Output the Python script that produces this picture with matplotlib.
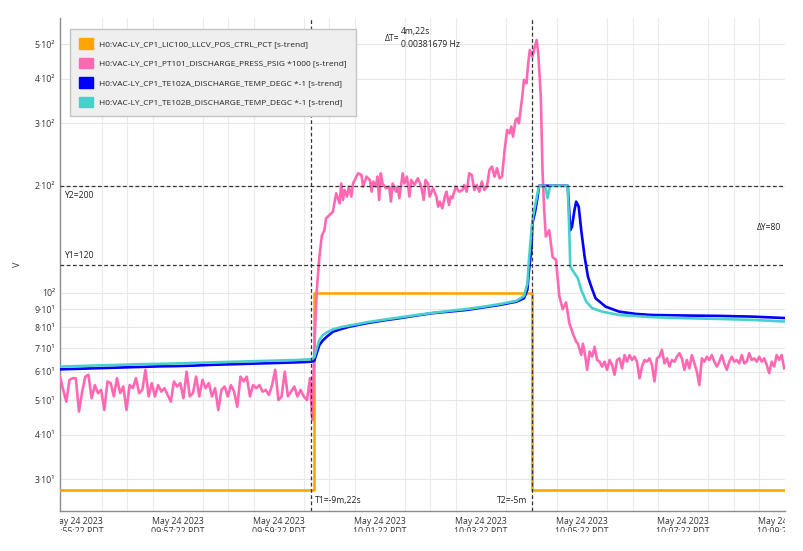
import matplotlib
matplotlib.use('Agg')
import matplotlib.pyplot as plt
import matplotlib.dates as mdates
import matplotlib.transforms as mtransforms
from matplotlib.patches import Patch, Rectangle
from matplotlib.ticker import FixedLocator, FixedFormatter, NullLocator, FuncFormatter
import numpy as np
import pandas as pd

plt.rcParams['font.family'] = ['Open Sans', 'DejaVu Sans']

# tempos de referencia
T0 = pd.Timestamp('2023-05-24 09:55:02')
T_END = pd.Timestamp('2023-05-24 10:09:23')
T1 = pd.Timestamp('2023-05-24 10:00:00')
T2 = pd.Timestamp('2023-05-24 10:04:22')
Y1, Y2 = 120, 200

names = ['H0:VAC-LY_CP1_LIC100_LLCV_POS_CTRL_PCT [s-trend]',
         'H0:VAC-LY_CP1_PT101_DISCHARGE_PRESS_PSIG *1000 [s-trend]',
         'H0:VAC-LY_CP1_TE102A_DISCHARGE_TEMP_DEGC *-1 [s-trend]',
         'H0:VAC-LY_CP1_TE102B_DISCHARGE_TEMP_DEGC *-1 [s-trend]']
colors = ['#FFA500', '#FF69B4', '#0000FF', '#48D1CC']

# LIC100 (segundos desde T0)
orange_s = [0, 302, 302, 560, 560, 861]
orange_v = [28, 28, 100, 100, 28, 28]

# PT101 antes de T1 (amostras igualmente espacadas 0..297 s)
pink_pre_v = [58.2, 53.4, 49.5, 57.0, 57.6, 57.6, 46.4, 52.8, 58.2, 58.9,
              50.6, 55.1, 52.3, 53.4, 46.9, 56.4, 55.8, 51.2, 57.6, 52.3,
              54.6, 46.9, 55.1, 54.0, 57.6, 52.3, 53.4, 60.8, 51.2, 55.8,
              51.2, 55.1, 52.8, 54.0, 51.7, 49.5, 56.4, 54.6, 55.8, 50.6,
              60.1, 51.2, 52.3, 58.2, 51.2, 57.0, 54.0, 55.8, 51.2, 54.0,
              46.9, 53.4, 54.6, 51.2, 55.1, 52.8, 47.9, 58.2, 56.4, 58.2,
              51.2, 55.1, 54.0, 55.1, 52.8, 53.4, 51.7, 55.1, 60.8, 50.0,
              51.2, 60.1, 51.2, 52.8, 54.6, 51.2, 53.4, 51.2, 50.0, 57.6]

# PT101 entre os cursores
pink_mid_s = [299, 300, 301, 303, 305, 308, 311, 314, 316, 324, 328, 332, 334,
              336, 338, 341, 343, 346, 348, 352, 354, 358, 360, 364, 368, 370,
              372, 375, 377, 379, 381, 383, 387, 391, 393, 395, 399, 401, 403,
              407, 409, 412, 415, 417, 421, 425, 429, 432, 434, 437, 439, 443,
              447, 449, 451, 454, 457, 459, 462, 464, 466, 470, 474, 478, 480,
              483, 486, 489, 492, 495, 498, 501, 504, 507, 510, 513, 516, 519,
              522, 525, 528, 531, 534, 536, 538, 541, 543, 545, 549, 551, 554,
              556, 558, 561, 564, 566, 568, 571, 573, 575, 577, 581, 585, 589,
              593, 597, 601, 605, 609, 613, 615, 619, 621, 624]
pink_mid_v = [46, 44, 58, 80, 102, 126, 145, 150, 162, 169, 190.5, 178.6, 203,
              182.4, 194.6, 186.5, 198.9, 186.5, 203, 212.2, 216.8, 214.5,
              198.9, 212.2, 207.7, 192.5, 205.5, 198.9, 212.2, 182.4, 216.8,
              203, 196.8, 198.9, 180.5, 203, 192.5, 198.9, 184.5, 216.8, 203,
              212.2, 186.5, 207.7, 201.1, 209.9, 198.9, 182.4, 207.7, 203,
              186.5, 196.8, 186.5, 174.8, 180.5, 172.9, 186.5, 192.5, 176.7,
              186.5, 184.5, 198.9, 192.5, 194.6, 201.1, 192.5, 216.8, 214.5,
              194.6, 201.1, 192.5, 205.5, 194.6, 198.9, 221.6, 226.4, 212.2,
              224, 209.9, 212.2, 252.2, 287, 280.8, 293.3, 274.8, 306, 309.5,
              299.6, 356, 396.7, 388, 441.8, 481.6, 461, 492, 513.6, 471.4,
              356, 221.6, 171, 144, 150, 126, 124, 98, 90, 94, 82, 77, 73, 72,
              67, 72, 66]

# PT101 depois (amostras igualmente espacadas 626..860 s)
pink_post_v = [60.8, 68.4, 66.2, 70.6, 64.8, 64.1, 62.1, 64.1, 60.8, 64.8,
               62.8, 58.9, 64.8, 65.5, 61.4, 66.9, 64.1, 66.9, 64.8, 66.2,
               64.1, 57.6, 62.1, 64.8, 64.1, 65.5, 62.8, 56.4, 65.5, 66.2,
               69.2, 63.4, 65.5, 62.1, 64.8, 64.1, 66.2, 67.7, 65.5, 60.8,
               64.8, 61.4, 66.9, 63.4, 60.1, 55.1, 65.5, 64.1, 66.2, 64.8,
               66.9, 64.1, 62.1, 64.1, 66.9, 63.4, 60.8, 64.1, 66.2, 64.1,
               64.8, 63.4, 66.9, 63.4, 64.1, 67.7, 64.8, 65.5, 64.1, 66.2,
               64.1, 65.5, 62.8, 59.5, 64.1, 62.1, 66.9, 64.8, 66.9, 61.4]

# TE102A
blue_s = [0, 20, 40, 60, 80, 100, 120, 140, 160, 180, 200, 220, 240, 260, 280,
          299, 302, 305, 308, 312, 317, 324, 334, 344, 354, 364, 383, 403, 422,
          442, 462, 483, 502, 522, 542, 551, 555, 557, 560, 561, 564, 567, 569,
          603, 606, 608, 611, 613, 616, 619, 623, 627, 631, 636, 648, 664, 684,
          703, 743, 783, 822, 861]
blue_v = [61.0, 61.2, 61.4, 61.6, 61.8, 62.0, 62.2, 62.3, 62.5, 62.8, 63.0,
          63.2, 63.4, 63.6, 63.8, 64.1, 64.5, 67.8, 71.4, 73.5, 75.4, 77.8,
          79.2, 80.4, 81.3, 82.2, 83.6, 84.9, 86.3, 87.7, 88.6, 89.6, 91.0,
          92.5, 94.5, 96.6, 102, 116, 135, 157, 168, 185, 200, 200, 150, 153.5,
          171, 180.5, 174.8, 150, 126.5, 111, 104, 96.6, 91.5, 88.6, 87.3,
          86.7, 86.4, 86.2, 85.8, 85.0]

# TE102B
turq_s = [0, 20, 40, 60, 80, 100, 120, 140, 160, 180, 200, 220, 240, 260, 280,
          299, 302, 305, 308, 312, 317, 324, 334, 344, 354, 364, 383, 403, 422,
          442, 462, 483, 502, 522, 542, 551, 555, 557, 560, 561, 564, 567, 569,
          576, 579, 582, 603, 605, 606, 611, 615, 619, 625, 632, 644, 650, 664,
          703, 743, 783, 822, 861]
turq_v = [62.1, 62.3, 62.5, 62.7, 62.9, 63.1, 63.2, 63.4, 63.6, 63.8, 64.0,
          64.2, 64.4, 64.6, 64.8, 65.1, 66.0, 70.0, 73.8, 76.0, 77.5, 79.0,
          80.2, 81.0, 81.8, 82.7, 84.0, 85.3, 86.6, 87.9, 89.0, 90.1, 91.4,
          93.0, 95.0, 98.0, 106, 125, 150, 160, 175, 190, 200, 200, 184.5, 200,
          200, 144, 118.5, 113.6, 110, 102, 94.5, 90.6, 88.6, 88.0, 86.7, 85.5,
          84.9, 84.5, 84.0, 83.1]

y_ticks = [30, 40, 50, 60, 70, 80, 90, 100, 200, 300, 400, 500]
y_labels = ['3·10¹', '4·10¹', '5·10¹', '6·10¹', '7·10¹', '8·10¹', '9·10¹',
            '10²', '2·10²', '3·10²', '4·10²', '5·10²']


def to_time(secs):
    return T0 + pd.to_timedelta(np.asarray(secs, dtype=float), unit='s')


pink_s = np.concatenate([np.linspace(0, 297, len(pink_pre_v)), pink_mid_s,
                         np.linspace(626, 860, len(pink_post_v))])
pink_v = np.concatenate([pink_pre_v, pink_mid_v, pink_post_v])

fig = plt.figure(figsize=(8.04, 5.51), dpi=100)
ax = fig.add_axes([60 / 804, 1 - 511 / 551, 725 / 804, 493 / 551])

lw = 1.9
ax.plot(to_time(orange_s), orange_v, color=colors[0], lw=lw, zorder=3)
ax.plot(to_time(pink_s), pink_v, color=colors[1], lw=lw, zorder=3)
ax.plot(to_time(blue_s), blue_v, color=colors[2], lw=lw, zorder=3)
ax.plot(to_time(turq_s), turq_v, color=colors[3], lw=lw, zorder=3)

ax.set_yscale('log')
ax.set_ylim(24.4, 592)
ax.set_xlim(T0, T_END)

ax.yaxis.set_major_locator(FixedLocator(y_ticks))
ax.yaxis.set_major_formatter(FixedFormatter(y_labels))
ax.yaxis.set_minor_locator(NullLocator())

major_x = pd.date_range('2023-05-24 09:55:22', periods=8, freq='2min')
minor_x = pd.date_range('2023-05-24 09:55:22', periods=29, freq='30s')
ax.xaxis.set_major_locator(FixedLocator(mdates.date2num(major_x)))
ax.xaxis.set_minor_locator(FixedLocator(mdates.date2num(minor_x)))
ax.xaxis.set_major_formatter(FuncFormatter(
    lambda x, pos: mdates.num2date(x).strftime('%b %d %Y\n%H:%M:%S PDT')))

ax.tick_params(axis='both', which='both', length=0, labelsize=6.3, colors='#333333')
ax.tick_params(axis='x', pad=4)
ax.grid(True, which='major', axis='y', color='#e6e6e6', lw=0.8, zorder=0)
ax.grid(True, which='minor', axis='x', color='#ebebeb', lw=0.8, zorder=0)
ax.grid(False, which='major', axis='x')

for s in ['top', 'right']:
    ax.spines[s].set_visible(False)
for s in ['left', 'bottom']:
    ax.spines[s].set_color('#8c8c8c')
    ax.spines[s].set_linewidth(1.0)

ax.set_ylabel('V', fontsize=6.5, color='#333333')
ax.yaxis.set_label_coords(-38 / 725, 0.5)

# cursores
dash = (0, (3, 2))
ax.axvline(T1, color='#333333', lw=0.9, ls=dash, zorder=4)
ax.axvline(T2, color='#333333', lw=0.9, ls=dash, zorder=4)
ax.axhline(Y1, color='#333333', lw=0.9, ls=dash, zorder=4)
ax.axhline(Y2, color='#333333', lw=0.9, ls=dash, zorder=4)

fs = 6.2
tx = mtransforms.blended_transform_factory(ax.transData, ax.transAxes)
ax.text(0.0055, 0.639, 'Y2=200', transform=ax.transAxes, fontsize=fs, va='center', color='#222222')
ax.text(0.0055, 0.519, 'Y1=120', transform=ax.transAxes, fontsize=fs, va='center', color='#222222')
ax.text(0.9945, 0.576, 'ΔY=80', transform=ax.transAxes, fontsize=fs, va='center', ha='right', color='#222222')
ax.annotate('T1=-9m,22s', xy=(mdates.date2num(T1), 0.0203), xycoords=tx,
            xytext=(3, 0), textcoords='offset points', fontsize=fs, va='center', color='#222222')
ax.annotate('T2=-5m', xy=(mdates.date2num(T2), 0.0203), xycoords=tx,
            xytext=(-3, 0), textcoords='offset points', fontsize=fs, va='center', ha='right', color='#222222')
ax.text((385 - 60) / 725, 0.959, 'ΔT=', transform=ax.transAxes, fontsize=fs, va='center', color='#222222')
ax.text((401 - 60) / 725, 0.9736, '4m,22s', transform=ax.transAxes, fontsize=fs, va='center', color='#222222')
ax.text((401 - 60) / 725, 0.947, '0.00381679 Hz', transform=ax.transAxes, fontsize=fs, va='center', color='#222222')

handles = [Patch(facecolor=c, edgecolor=c) for c in colors]
leg = ax.legend(handles, names, loc='upper left', bbox_to_anchor=(10 / 725, 482 / 493),
                borderaxespad=0, fontsize=6.0, fancybox=False, framealpha=1,
                facecolor='#efefef', edgecolor='#c4c4c4', handlelength=1.6,
                handleheight=1.6, handletextpad=0.75, labelspacing=1.05,
                borderpad=1.1)
leg.get_frame().set_linewidth(1.0)
for t in leg.get_texts():
    t.set_color('#222222')

# os rotulos do eixo x sao cortados nas bordas
fig.canvas.draw()
clip = Rectangle((60 / 804, 19 / 551), 725 / 804, 1 - 19 / 551,
                 transform=fig.transFigure, visible=False)
fig.add_artist(clip)
for lab in ax.get_xticklabels():
    lab.set_clip_on(True)
    lab.set_clip_path(clip)

fig.savefig('out.png', dpi=100)
